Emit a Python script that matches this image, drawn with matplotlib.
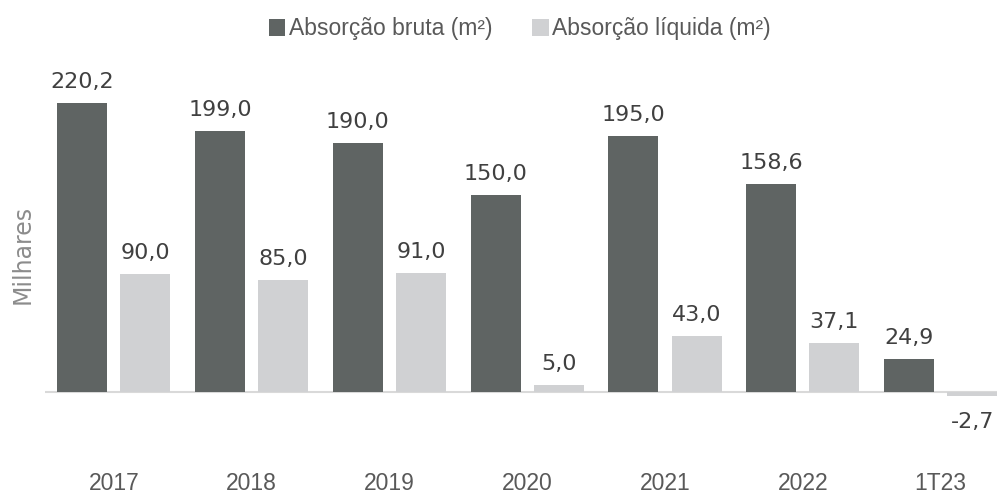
import matplotlib
matplotlib.use("Agg")
import matplotlib.pyplot as plt
import numpy as np

# Dados (milhares de m²)
categorias = ['2017', '2018', '2019', '2020', '2021', '2022', '1T23']
bruta = [220.2, 199.0, 190.0, 150.0, 195.0, 158.6, 24.9]
liquida = [90.0, 85.0, 91.0, 5.0, 43.0, 37.1, -2.7]

cor_bruta = '#5f6463'
cor_liquida = '#d0d1d3'
cor_texto = '#404040'
cor_eixo = '#595959'

W, H = 997, 497
fig = plt.figure(figsize=(W / 100, H / 100), dpi=100)
fig.patch.set_facecolor('white')

# eixo: de x=45px até a borda direita, y de 60px a 440px
ax = fig.add_axes([45 / W, 1 - 440 / H, 1 - 45 / W, 380 / H])
escala = 1.312  # px por unidade
ax.set_ylim(-(440 - 392) / escala, (392 - 60) / escala)
ax.set_xlim(-0.5, 6.41)

x = np.arange(len(categorias))
larg = 0.363
desl = 0.229

b1 = ax.bar(x - desl, bruta, larg, color=cor_bruta, label='Absorção bruta (m²)', zorder=2)
b2 = ax.bar(x + desl, liquida, larg, color=cor_liquida, label='Absorção líquida (m²)', zorder=2)

ax.axhline(0, color='#d9d9d9', linewidth=1.5, zorder=1)

fmt = lambda v: f'{v:.1f}'.replace('.', ',')
for xi, v in zip(x - desl, bruta):
    ax.annotate(fmt(v), xy=(xi, v), xytext=(0, 10.8), textcoords='offset points',
                ha='center', va='baseline', fontsize=16, color=cor_texto,
                family='DejaVu Sans')
for xi, v in zip(x + desl, liquida):
    if v >= 0:
        ax.annotate(fmt(v), xy=(xi, v), xytext=(0, 10.8), textcoords='offset points',
                    ha='center', va='baseline', fontsize=16, color=cor_texto,
                    family='DejaVu Sans')
    else:
        ax.annotate(fmt(v), xy=(xi, v), xytext=(0, -12), textcoords='offset points',
                    ha='center', va='top', fontsize=16, color=cor_texto,
                    family='DejaVu Sans')

ax.set_xticks(x)
ax.set_xticklabels(categorias, fontsize=16.5, color=cor_eixo, family='Liberation Sans')
ax.tick_params(axis='x', length=0, pad=23)
ax.set_yticks([])
for s in ax.spines.values():
    s.set_visible(False)

fig.text(23 / W, 1 - 254 / H, 'Milhares', rotation=90, ha='center', va='center',
         fontsize=17, color='#8c8c8c', family='DejaVu Sans')

leg = fig.legend(handles=[b1, b2], loc='center', bbox_to_anchor=(520 / W, 1 - 29 / H),
                 ncol=2, frameon=False, handlelength=0.7, handleheight=0.7,
                 handletextpad=0.15, columnspacing=1.75,
                 prop={'family': 'Liberation Sans', 'size': 16.5})
for t in leg.get_texts():
    t.set_color(cor_eixo)

plt.savefig('out.png', dpi=100)
